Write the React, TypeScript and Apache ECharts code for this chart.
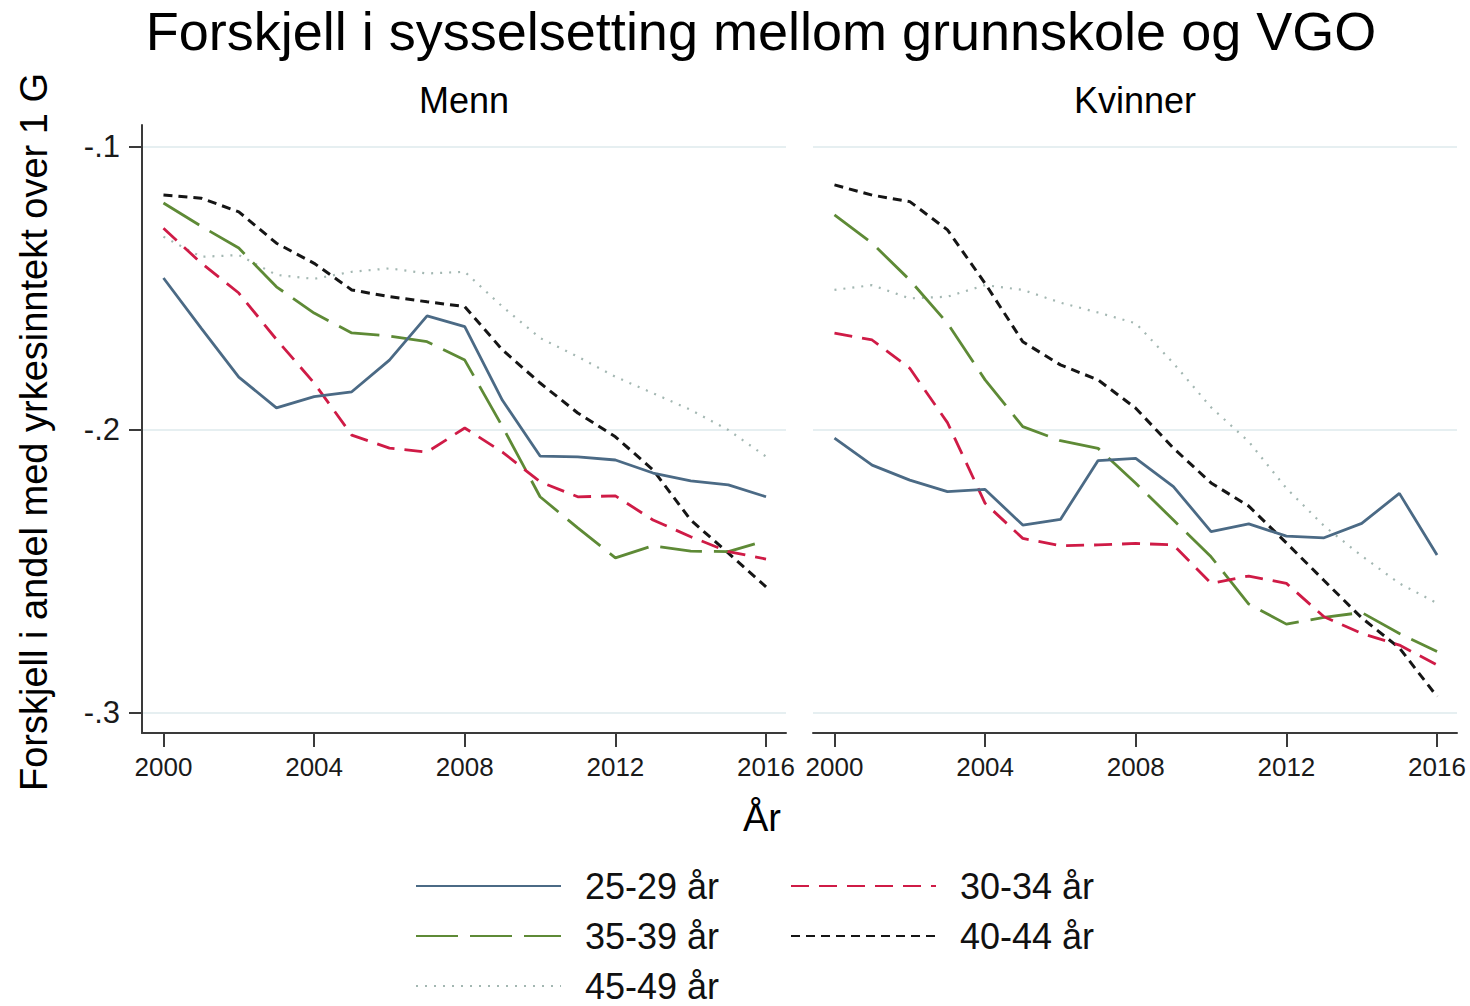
import React, { useEffect, useRef } from "react";
import * as echarts from "echarts";

const years = [2000, 2001, 2002, 2003, 2004, 2005, 2006, 2007, 2008, 2009, 2010, 2011, 2012, 2013, 2014, 2015, 2016];
const xTicks = [2000, 2004, 2008, 2012, 2016];
const yTicks = [-0.3, -0.2, -0.1];
const groups = ["25-29 år", "30-34 år", "35-39 år", "40-44 år", "45-49 år"];
const panels = ["Menn", "Kvinner"];

// Menn
const m2529 = [-0.1463, -0.164, -0.1813, -0.1922, -0.1882, -0.1865, -0.1753, -0.1597, -0.1635, -0.1895, -0.2092, -0.2095, -0.2106, -0.2152, -0.218, -0.2194, -0.2236];
const m3034 = [-0.1287, -0.141, -0.1516, -0.168, -0.1834, -0.2018, -0.2064, -0.2078, -0.1993, -0.2078, -0.2183, -0.2236, -0.2233, -0.2318, -0.2377, -0.243, -0.2456];
const m3539 = [-0.1198, -0.128, -0.1357, -0.1494, -0.1587, -0.1657, -0.1668, -0.1688, -0.1753, -0.1988, -0.2236, -0.2346, -0.2452, -0.2409, -0.2428, -0.243, -0.2391];
const m4044 = [-0.117, -0.1181, -0.1229, -0.134, -0.1411, -0.1505, -0.1529, -0.1547, -0.1564, -0.1717, -0.1834, -0.194, -0.2024, -0.2141, -0.2318, -0.2435, -0.2554];
const m4549 = [-0.1317, -0.1388, -0.1382, -0.1452, -0.1466, -0.1441, -0.1429, -0.1447, -0.1441, -0.1564, -0.1675, -0.1741, -0.1812, -0.187, -0.1929, -0.2, -0.2094];

// Kvinner
const k2529 = [-0.2029, -0.2124, -0.2177, -0.2218, -0.221, -0.2336, -0.2316, -0.2108, -0.21, -0.22, -0.2359, -0.2332, -0.2375, -0.2381, -0.233, -0.2224, -0.2442];
const k3034 = [-0.1658, -0.1682, -0.1782, -0.1974, -0.2259, -0.2383, -0.2409, -0.2406, -0.2401, -0.2406, -0.2542, -0.2516, -0.2542, -0.266, -0.2719, -0.276, -0.283];
const k3539 = [-0.124, -0.134, -0.147, -0.1623, -0.1823, -0.1988, -0.2038, -0.2065, -0.2188, -0.2318, -0.2448, -0.2615, -0.2686, -0.2662, -0.2645, -0.2719, -0.2783];
const k4044 = [-0.1134, -0.117, -0.1193, -0.1293, -0.1482, -0.1688, -0.177, -0.1823, -0.1923, -0.2064, -0.2187, -0.2269, -0.2399, -0.2532, -0.2664, -0.277, -0.2942];
const k4549 = [-0.1505, -0.1488, -0.1535, -0.1529, -0.1488, -0.1505, -0.155, -0.1585, -0.1623, -0.1764, -0.192, -0.2041, -0.2206, -0.2339, -0.2445, -0.2542, -0.2612];

const mennData = [m2529, m3034, m3539, m4044, m4549];
const kvinnerData = [k2529, k3034, k3539, k4044, k4549];

const FONT = "'Liberation Sans', Arial, sans-serif";
const styles = [
  { color: "#4b6a85", type: "solid" as any, width: 2.8 },
  { color: "#cf1b46", type: [18, 10], width: 2.8 },
  { color: "#5e8a36", type: [42, 12], width: 2.8 },
  { color: "#151515", type: [9, 6], width: 3 },
  { color: "#a3b7b2", type: [2, 7], width: 2.2 },
];

export default function App() {
  const ref = useRef<HTMLDivElement>(null);
  useEffect(() => {
    document.body.style.margin = "0";
    const chart = echarts.init(ref.current!, null, { renderer: "svg" });
    const axisColor = "#3a3a3a";
    const gridTop = 125;
    const gridH = 608;
    const xAxisBase = {
      type: "value",
      min: 1999.43,
      max: 2016.53,
      axisLine: { show: true, lineStyle: { color: axisColor, width: 2 } },
      axisTick: { show: true, length: 14, lineStyle: { color: axisColor, width: 2 }, customValues: xTicks },
      axisLabel: { customValues: xTicks, fontSize: 26, color: "#1a1a1a", fontFamily: FONT, margin: 21, formatter: (v: number) => String(v) },
      splitLine: { show: false },
    };
    const yAxisBase = {
      type: "value",
      min: -0.30707,
      max: -0.09223,
      axisTick: { customValues: yTicks },
      axisLabel: { customValues: yTicks },
      splitLine: { show: true, lineStyle: { color: "#e6eff1", width: 2 } },
    };
    const series: any[] = [];
    [mennData, kvinnerData].forEach((panelData, pi) => {
      panelData.forEach((arr, gi) => {
        series.push({
          type: "line",
          name: groups[gi],
          xAxisIndex: pi,
          yAxisIndex: pi,
          data: years.map((y, i) => [y, arr[i]]),
          showSymbol: false,
          symbol: "none",
          lineStyle: { color: styles[gi].color, type: styles[gi].type, width: styles[gi].width, cap: "butt" },
          itemStyle: { color: styles[gi].color },
          z: 10 - gi,
        });
      });
    });
    const legendCommon = {
      orient: "vertical",
      top: 868,
      height: 180,
      padding: 0,
      itemWidth: 145,
      itemHeight: 20,
      itemGap: 14,
      itemStyle: { opacity: 0 },
      textStyle: { fontSize: 36, lineHeight: 36, color: "#111", fontFamily: FONT, padding: [0, 0, 0, 19] },
    };
    chart.setOption({
      animation: false,
      backgroundColor: "#ffffff",
      textStyle: { fontFamily: FONT },
      grid: [
        { left: 142, top: gridTop, width: 644, height: gridH },
        { left: 813, top: gridTop, width: 644, height: gridH },
      ],
      xAxis: [
        { ...xAxisBase, gridIndex: 0 },
        { ...xAxisBase, gridIndex: 1 },
      ],
      yAxis: [
        {
          ...yAxisBase,
          gridIndex: 0,
          axisLine: { show: true, lineStyle: { color: axisColor, width: 2 } },
          axisTick: { show: true, length: 13, lineStyle: { color: axisColor, width: 2 }, customValues: yTicks },
          axisLabel: {
            show: true,
            customValues: yTicks,
            fontSize: 31,
            color: "#1a1a1a",
            fontFamily: FONT,
            margin: 22,
            formatter: (v: number) => "-." + String(Math.round(Math.abs(v) * 10)),
          },
        },
        {
          ...yAxisBase,
          gridIndex: 1,
          axisLine: { show: false },
          axisTick: { show: false, customValues: yTicks },
          axisLabel: { show: false, customValues: yTicks },
        },
      ],
      legend: [
        { ...legendCommon, left: 415, data: [groups[0], groups[2], groups[4]] },
        { ...legendCommon, left: 790, data: [groups[1], groups[3]] },
      ],
      graphic: [
        {
          type: "text",
          x: 761,
          y: 31,
          style: { text: "Forskjell i sysselsetting mellom grunnskole og VGO", font: `54px ${FONT}`, fill: "#000", textAlign: "center", textVerticalAlign: "middle" },
        },
        {
          type: "text",
          x: 464,
          y: 100,
          style: { text: panels[0], font: `36px ${FONT}`, fill: "#000", textAlign: "center", textVerticalAlign: "middle" },
        },
        {
          type: "text",
          x: 1135,
          y: 100,
          style: { text: panels[1], font: `36px ${FONT}`, fill: "#000", textAlign: "center", textVerticalAlign: "middle" },
        },
        {
          type: "text",
          x: 762,
          y: 818,
          style: { text: "År", font: `38px ${FONT}`, fill: "#000", textAlign: "center", textVerticalAlign: "middle" },
        },
        {
          type: "text",
          x: 34,
          y: 432,
          rotation: Math.PI / 2,
          style: { text: "Forskjell i andel med yrkesinntekt over 1 G", font: `38px ${FONT}`, fill: "#000", textAlign: "center", textVerticalAlign: "middle" },
        },
      ],
      series,
    });
    return () => chart.dispose();
  }, []);
  return <div ref={ref} style={{ width: 1470, height: 1006 }} />;
}
